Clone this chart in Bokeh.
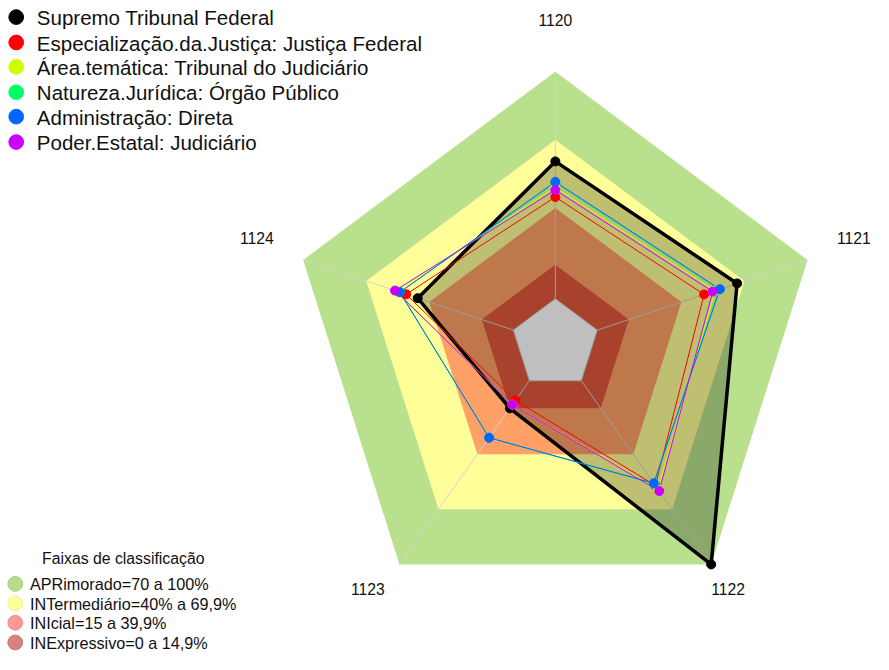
import numpy as np
from bokeh.plotting import figure
from bokeh.models import Range1d
from bokeh.core.properties import value
from bokeh.embed import file_html
from bokeh.resources import INLINE

# ---------------- data ----------------
axes_labels = ["1120", "1121", "1122", "1123", "1124"]

series_names = [
    "Supremo Tribunal Federal",
    "Especialização.da.Justiça: Justiça Federal",
    "Área.temática: Tribunal do Judiciário",
    "Natureza.Jurídica: Órgão Público",
    "Administração: Direta",
    "Poder.Estatal: Judiciário",
]
series_colors = ["#000000", "#FF0000", "#CCFF00", "#00FF66", "#0066FF", "#CC00FF"]

stf = [60.5, 66.5, 100.0, 15.0, 45.5]
justica_federal = [44.8, 50.8, 57.0, 10.7, 51.0]
tribunal_judiciario = [49.0, 56.0, 59.0, 13.0, 55.5]
orgao_publico = [51.0, 57.8, 56.0, 31.0, 54.0]
adm_direta = [51.5, 58.3, 55.8, 31.0, 54.0]
poder_judiciario = [47.9, 54.9, 60.0, 13.0, 56.3]
series_values = [stf, justica_federal, tribunal_judiciario, orgao_publico,
                 adm_direta, poder_judiciario]

band_levels = [100, 70, 40, 15, 0]
band_fill = ["#B9E08C", "#FFFF99", "#FFA066", "#E0583C", "#FFFFFF"]
band_labels = ["APRimorado=70 a 100%", "INTermediário=40% a 69,9%",
               "INIcial=15 a 39,9%", "INExpressivo=0 a 14,9%"]
band_legend_fill = ["#B5DD8A", "#FFFF99", "#FF9999", "#D98080"]
band_legend_line = ["#A2CC7A", "#F2F28E", "#F08A8A", "#C87272"]
legend_title = "Faixas de classificação"

vmin, vmax = -20.0, 100.0

# ---------------- geometry (reference pixel space 889x670, scaled to fit) ----------------
W, H = 873, 654
REF_W, REF_H = 889.0, 670.0
RCX, RCY = 565.0, 352.0      # centre in reference pixels
RRX, RRY = 270.0, 279.0      # pixel radius of the 100% ring (reference)

n = len(axes_labels)
theta = np.arange(n) * 2 * np.pi / n


def rad(v):
    return (np.asarray(v, dtype=float) - vmin) / (vmax - vmin)


def polar(vals):
    r = rad(vals)
    return list(r * np.sin(theta)), list(r * np.cos(theta))


def sx(px):  # reference pixel -> data x
    return (px - RCX) / RRX


def sy(py):  # reference pixel -> data y
    return (RCY - py) / RRY


p = figure(width=W, height=H, output_backend="svg", toolbar_location=None,
           x_range=Range1d(sx(0), sx(REF_W)),
           y_range=Range1d(sy(REF_H), sy(0)),
           x_axis_type=None, y_axis_type=None, min_border=0,
           background_fill_color="white", border_fill_color="white")
p.outline_line_color = None
p.grid.visible = False

FONT = value("Liberation Sans")

# bands
for lev, col in zip(band_levels, band_fill):
    xs, ys = polar([lev] * n)
    p.patch(xs, ys, fill_color=col, line_color=None)

# spokes
r0, r1 = rad(0), rad(100)
p.segment(x0=list(r0 * np.sin(theta)), y0=list(r0 * np.cos(theta)),
          x1=list(r1 * np.sin(theta)), y1=list(r1 * np.cos(theta)),
          line_color="#D3D3D3", line_width=1)
xs0, ys0 = polar([0] * n)
p.patch(xs0, ys0, fill_color=None, line_color="#C8C8C8", line_width=1)

# black series fill
bx, by = polar(stf)
p.patch(bx, by, fill_color="black", fill_alpha=0.25, line_color=None)

# series lines and points
for i, (vals, col) in enumerate(zip(series_values, series_colors)):
    xs, ys = polar(vals)
    lw = 3.5 if i == 0 else 1
    p.line(xs + xs[:1], ys + ys[:1], line_color=col, line_width=lw,
           line_join="round")
for vals, col in zip(series_values, series_colors):
    xs, ys = polar(vals)
    p.scatter(xs, ys, size=9, fill_color=col, line_color=col, marker="circle")

# axis labels
lab_px = [(565, 20), (869, 243), (741, 603), (374, 603), (261, 243)]
p.text([sx(a) for a, b in lab_px], [sy(b) for a, b in lab_px], text=axes_labels,
       text_font=FONT, text_font_size=value("15.7px"), text_align="center",
       text_baseline="middle", text_color="#111111")

# top legend
ly = [17, 43, 68, 94, 119, 145]
p.scatter([sx(16)] * len(ly), [sy(v) for v in ly], size=14.7, marker="circle",
          fill_color=series_colors, line_color=series_colors)
p.text([sx(37)] * len(ly), [sy(v + 0.7) for v in ly], text=series_names,
       text_font=FONT, text_font_size=value("20.5px"), text_align="left",
       text_baseline="middle", text_color="#111111")

# bottom legend
p.text([sx(125)], [sy(572)], text=[legend_title], text_font=FONT,
       text_font_size=value("15.8px"), text_align="center",
       text_baseline="middle", text_color="#111111")
by2 = [597.7, 617.5, 637.5, 657.7]
p.scatter([sx(15)] * 4, [sy(v) for v in by2], size=14.7, marker="circle",
          fill_color=band_legend_fill, line_color=band_legend_line, line_width=1)
p.text([sx(30)] * 4, [sy(v + 0.5) for v in by2], text=band_labels, text_font=FONT,
       text_font_size=value("16.2px"), text_align="left",
       text_baseline="middle", text_color="#111111")

open("out.html", "w").write(file_html(p, INLINE))
